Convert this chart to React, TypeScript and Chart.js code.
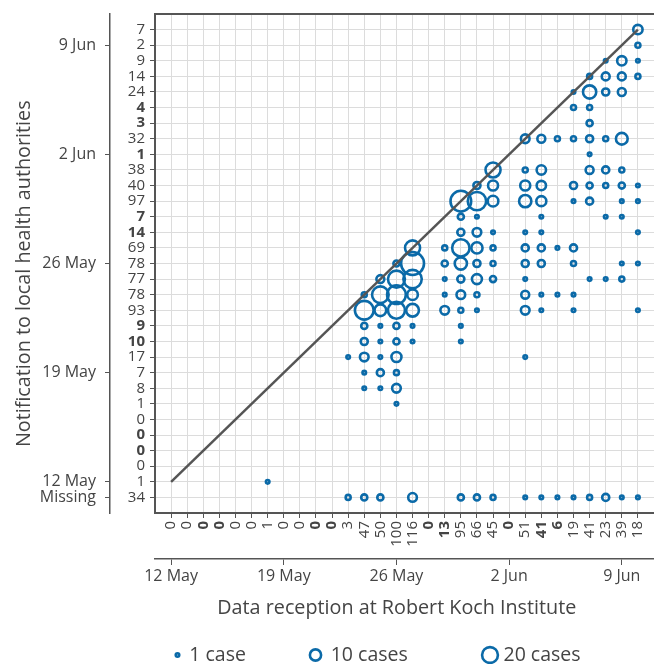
import React, { useEffect, useRef } from 'react';
import { Chart, registerables } from 'chart.js';

Chart.register(...registerables);

// ---------- data (day offsets from 12 May) ----------
const receptionTotals = [0, 0, 0, 0, 0, 0, 1, 0, 0, 0, 0, 3, 47, 50, 100, 116, 0, 13, 95, 66, 45, 0, 51, 41, 6, 19, 41, 23, 39, 18];
const notificationTotals = [1, 0, 0, 0, 0, 1, 8, 7, 17, 10, 9, 93, 78, 77, 78, 69, 14, 7, 97, 40, 38, 1, 32, 3, 4, 24, 14, 9, 2, 7];
const missingTotal = 34;
const boldDays = [2, 3, 9, 10, 16, 17, 21, 23, 24];
const dateTickDays = [0, 7, 14, 21, 28];
const dateTickLabels = ['12 May', '19 May', '26 May', '2 Jun', '9 Jun'];
const MISSING = -1;
const missingLabel = 'Missing';

// [reception day, notification day, cases]
const cases: [number, number, number][] = [
  [29, 29, 7],
  [29, 28, 2],
  [27, 27, 1], [28, 27, 7], [29, 27, 1],
  [26, 26, 2], [27, 26, 5], [28, 26, 5], [29, 26, 2],
  [25, 25, 1], [26, 25, 14], [27, 25, 4], [28, 25, 5],
  [25, 24, 2], [26, 24, 2],
  [26, 23, 3],
  [22, 22, 6], [23, 22, 5], [24, 22, 2], [25, 22, 2], [26, 22, 4], [27, 22, 2], [28, 22, 11],
  [26, 21, 1],
  [20, 20, 18], [22, 20, 2], [23, 20, 7], [26, 20, 5], [27, 20, 4], [28, 20, 2],
  [19, 19, 4], [20, 19, 8], [22, 19, 8], [23, 19, 7], [25, 19, 4], [26, 19, 3], [27, 19, 2], [28, 19, 3], [29, 19, 1],
  [18, 18, 34], [19, 18, 27], [20, 18, 9], [22, 18, 12], [23, 18, 8], [25, 18, 1], [26, 18, 4], [28, 18, 1], [29, 18, 1],
  [18, 17, 3], [19, 17, 1], [23, 17, 1], [27, 17, 1], [28, 17, 1],
  [18, 16, 4], [19, 16, 6], [20, 16, 1], [22, 16, 1], [23, 16, 1], [29, 16, 1],
  [15, 15, 18], [17, 15, 2], [18, 15, 24], [19, 15, 10], [20, 15, 2], [22, 15, 4], [23, 15, 4], [24, 15, 1], [25, 15, 4],
  [14, 14, 3], [15, 14, 42], [17, 14, 3], [18, 14, 12], [19, 14, 4], [20, 14, 2], [22, 14, 4], [23, 14, 4], [25, 14, 2], [28, 14, 1], [29, 14, 1],
  [13, 13, 5], [14, 13, 23], [15, 13, 27], [17, 13, 1], [18, 13, 4], [19, 13, 8], [20, 13, 3], [22, 13, 1], [26, 13, 1], [27, 13, 1], [28, 13, 2],
  [12, 12, 2], [13, 12, 22], [14, 12, 28], [15, 12, 9], [17, 12, 1], [18, 12, 6], [19, 12, 2], [22, 12, 5], [23, 12, 1], [24, 12, 1], [25, 12, 1],
  [12, 11, 28], [13, 11, 11], [14, 11, 23], [15, 11, 13], [17, 11, 6], [18, 11, 2], [19, 11, 1], [22, 11, 6], [23, 11, 1], [25, 11, 1], [29, 11, 1],
  [12, 10, 3], [13, 10, 1], [14, 10, 3], [15, 10, 1], [18, 10, 1],
  [12, 9, 4], [13, 9, 1], [14, 9, 3], [15, 9, 1], [18, 9, 1],
  [11, 8, 1], [12, 8, 6], [13, 8, 1], [14, 8, 8], [22, 8, 1],
  [12, 7, 1], [13, 7, 4], [14, 7, 2],
  [12, 6, 1], [13, 6, 1], [14, 6, 6],
  [14, 5, 1],
  [6, 0, 1],
  [11, MISSING, 2], [12, MISSING, 3], [13, MISSING, 3], [15, MISSING, 6], [18, MISSING, 3], [19, MISSING, 3], [20, MISSING, 2],
  [22, MISSING, 1], [23, MISSING, 1], [24, MISSING, 1], [25, MISSING, 1], [26, MISSING, 2], [27, MISSING, 4], [28, MISSING, 1], [29, MISSING, 1],
];

const diagonal = [{ x: 0, y: 0 }, { x: 29, y: 29 }];
const legendCases = [1, 10, 20];
const legendLabels = ['1 case', '10 cases', '20 cases'];

// ---------- styling ----------
const FONT = "'Open Sans', 'Noto Sans', sans-serif";
const TEXT = '#444444';
const AXIS = '#555555';
const GRID = '#dcdcdc';
const BLUE = '#0b6aa8';
const RING_W = 2.6;
const TITLE_SIZE = 19.75;
const radiusFor = (n: number) => 1.77 * Math.sqrt(n);

const days = Array.from({ length: 30 }, (_, i) => i);

const sizeLegend = {
  id: 'sizeLegend',
  afterDraw(chart: any) {
    const ctx = chart.ctx;
    const y = 655;
    const centers = [177.5, 315.5, 490];
    const textX = [189.3, 330.7, 503.5];
    ctx.save();
    legendCases.forEach((n, i) => {
      ctx.beginPath();
      ctx.arc(centers[i], y, radiusFor(n), 0, Math.PI * 2);
      ctx.lineWidth = RING_W;
      ctx.strokeStyle = BLUE;
      ctx.stroke();
      ctx.font = `19.5px ${FONT}`;
      ctx.fillStyle = TEXT;
      ctx.textAlign = 'left';
      ctx.textBaseline = 'middle';
      ctx.fillText(legendLabels[i], textX[i], y);
    });
    ctx.restore();
  },
};

const noPadX = (h: number) => (s: any) => { s.height = h; s.paddingLeft = 0; s.paddingRight = 0; };
const noPadY = (w: number) => (s: any) => { s.width = w; s.paddingTop = 0; s.paddingBottom = 0; };

export default function App() {
  const ref = useRef<HTMLCanvasElement>(null);

  useEffect(() => {
    const chart = new Chart(ref.current as HTMLCanvasElement, {
      data: {
        datasets: [
          {
            type: 'line',
            data: diagonal,
            borderColor: AXIS,
            borderWidth: 2.5,
            pointRadius: 0,
            xAxisID: 'x',
            yAxisID: 'y',
          } as any,
          {
            type: 'bubble',
            data: cases.map(([x, y, n]) => ({ x, y, r: radiusFor(n) })),
            borderColor: BLUE,
            backgroundColor: 'rgba(0,0,0,0)',
            borderWidth: RING_W,
            xAxisID: 'x',
            yAxisID: 'y',
          } as any,
        ],
      },
      options: {
        animation: false,
        responsive: false,
        devicePixelRatio: 1,
        layout: { autoPadding: false, padding: { top: 14, right: 0, bottom: 36, left: 0 } },
        plugins: { legend: { display: false }, tooltip: { enabled: false } },
        scales: {
          x: {
            type: 'linear',
            position: 'bottom',
            weight: 0,
            min: -1,
            max: 30,
            afterBuildTicks: (s: any) => { s.ticks = days.map((v) => ({ value: v })); },
            afterFit: noPadX(46),
            ticks: {
              autoSkip: false,
              minRotation: 90,
              maxRotation: 90,
              padding: 3,
              color: TEXT,
              font: (c: any) => ({ family: FONT, size: 15, weight: boldDays.includes(c.tick?.value) ? 'bold' : 'normal' }),
              callback: (v: any) => String(receptionTotals[v]),
            },
            grid: { color: GRID, lineWidth: 1, tickLength: 5, tickColor: AXIS },
            border: { color: AXIS, width: 2 },
          },
          x2: {
            type: 'linear',
            position: 'bottom',
            weight: 1,
            min: -1,
            max: 30,
            afterBuildTicks: (s: any) => { s.ticks = dateTickDays.map((v) => ({ value: v })); },
            afterFit: noPadX(69),
            ticks: {
              autoSkip: false,
              maxRotation: 0,
              padding: 2,
              color: TEXT,
              font: { family: FONT, size: 16 },
              callback: (v: any) => dateTickLabels[dateTickDays.indexOf(v)],
            },
            grid: { drawOnChartArea: false, tickLength: 6, tickColor: AXIS },
            border: { color: AXIS, width: 1.5 },
            title: {
              display: true,
              text: 'Data reception at Robert Koch Institute   ',
              color: TEXT,
              font: { family: FONT, size: TITLE_SIZE },
              padding: { top: 0, bottom: 8 },
            },
          },
          y: {
            type: 'linear',
            position: 'left',
            weight: 0,
            min: -2,
            max: 30,
            afterBuildTicks: (s: any) => { s.ticks = [MISSING, ...days, 30].map((v) => ({ value: v })); },
            afterFit: noPadY(45),
            ticks: {
              autoSkip: false,
              padding: 5,
              color: TEXT,
              font: (c: any) => ({ family: FONT, size: 15, weight: boldDays.includes(c.tick?.value) ? 'bold' : 'normal' }),
              callback: (v: any) => (v === MISSING ? String(missingTotal) : v === 30 ? '' : String(notificationTotals[v])),
            },
            grid: {
              color: (c: any) => (c.tick && c.tick.value === 30 ? AXIS : GRID),
              lineWidth: (c: any) => (c.tick && c.tick.value === 30 ? 2 : 1),
              tickColor: (c: any) => (c.tick && c.tick.value === 30 ? 'rgba(0,0,0,0)' : AXIS),
              tickLength: 5,
            },
            border: { color: AXIS, width: 2 },
          },
          y2: {
            type: 'linear',
            position: 'left',
            weight: 1,
            min: -2,
            max: 30,
            afterBuildTicks: (s: any) => { s.ticks = [MISSING, ...dateTickDays].map((v) => ({ value: v })); },
            afterFit: noPadY(110),
            ticks: {
              autoSkip: false,
              padding: 9,
              color: TEXT,
              font: { family: FONT, size: 16 },
              callback: (v: any) => (v === MISSING ? missingLabel : dateTickLabels[dateTickDays.indexOf(v)]),
            },
            grid: { drawOnChartArea: false, tickLength: 5, tickColor: AXIS },
            border: { color: AXIS, width: 1.5 },
            title: {
              display: true,
              text: 'Notification to local health authorities    ',
              color: TEXT,
              font: { family: FONT, size: TITLE_SIZE },
              padding: { top: 12.5, bottom: 0 },
            },
          },
        },
      } as any,
      plugins: [sizeLegend],
    });
    return () => chart.destroy();
  }, []);

  return (
    <div style={{ position: 'absolute', left: 0, top: 0, width: 654, height: 664 }}>
      <canvas ref={ref} width={654} height={664} style={{ display: 'block' }} />
    </div>
  );
}
